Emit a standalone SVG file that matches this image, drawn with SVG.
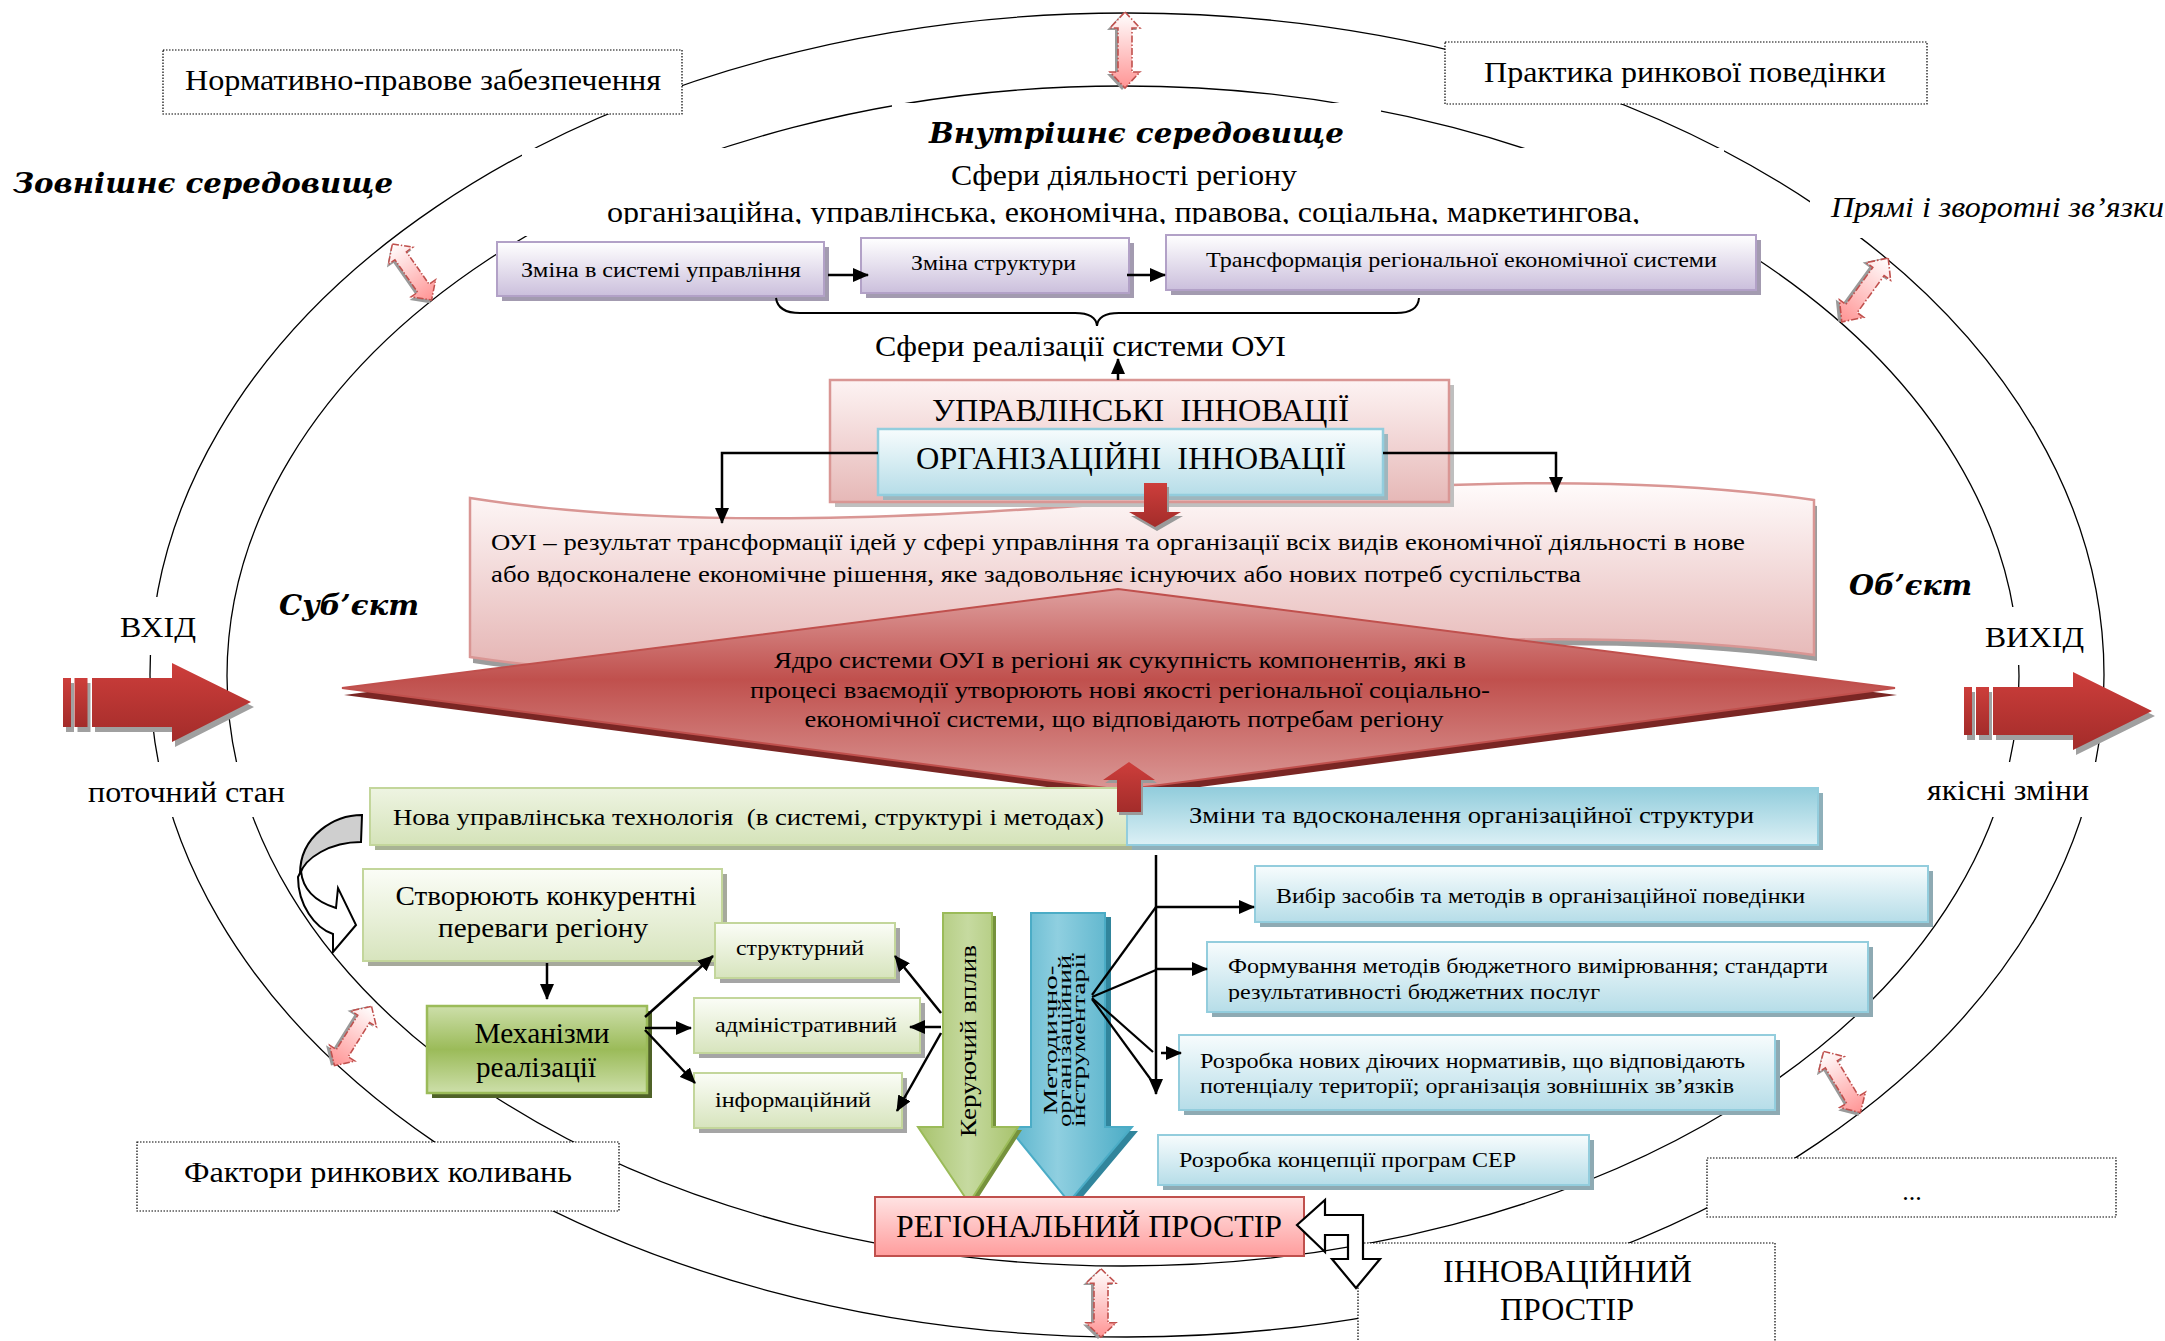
<svg xmlns="http://www.w3.org/2000/svg" width="2165" height="1341" viewBox="0 0 2165 1341">
<defs>
<style>
.t{font-family:"Liberation Serif","Times New Roman",serif;fill:#000}
.bi{font-family:"DejaVu Serif","Liberation Serif",serif;font-weight:bold;font-style:italic;fill:#000}
.dot{fill:#fff;stroke:#000;stroke-width:1.2;stroke-dasharray:1.5 1.5}
.ell{fill:none;stroke:#000;stroke-width:1.3}
.con{fill:none;stroke:#000;stroke-width:2.5}
.wh{fill:#fff}
</style>
<linearGradient id="gPurple" x1="0" y1="0" x2="0" y2="1"><stop offset="0" stop-color="#ffffff"/><stop offset="1" stop-color="#cbbfdc"/></linearGradient>
<linearGradient id="gPinkBox" x1="0" y1="0" x2="0" y2="1"><stop offset="0" stop-color="#fdf3f3"/><stop offset="1" stop-color="#e6b8b7"/></linearGradient>
<linearGradient id="gBlueBox" x1="0" y1="0" x2="0" y2="1"><stop offset="0" stop-color="#f7fcfd"/><stop offset="1" stop-color="#b6dde8"/></linearGradient>
<linearGradient id="gBlueBar" x1="0" y1="0" x2="0" y2="1"><stop offset="0" stop-color="#92cddc"/><stop offset="1" stop-color="#dcf0f5"/></linearGradient>
<linearGradient id="gGreenBar" x1="0" y1="0" x2="0" y2="1"><stop offset="0" stop-color="#eef4e2"/><stop offset="1" stop-color="#d5e3b9"/></linearGradient>
<linearGradient id="gGreenBox" x1="0" y1="0" x2="0" y2="1"><stop offset="0" stop-color="#fbfdf7"/><stop offset="1" stop-color="#d7e4bd"/></linearGradient>
<linearGradient id="gMech" x1="0" y1="0" x2="0" y2="1"><stop offset="0" stop-color="#cddfaa"/><stop offset="0.5" stop-color="#9bbb59"/><stop offset="1" stop-color="#cddfaa"/></linearGradient>
<linearGradient id="gWave" x1="0" y1="0" x2="0" y2="1"><stop offset="0" stop-color="#fffbfb"/><stop offset="1" stop-color="#e4b2b1"/></linearGradient>
<linearGradient id="gDiamond" x1="0" y1="0" x2="0" y2="1"><stop offset="0" stop-color="#de9f9e"/><stop offset="0.45" stop-color="#c0504d"/><stop offset="1" stop-color="#da9795"/></linearGradient>
<linearGradient id="gRedArrow" x1="0" y1="0" x2="0" y2="1"><stop offset="0" stop-color="#cd3e3b"/><stop offset="1" stop-color="#a32c2a"/></linearGradient>
<linearGradient id="gRegion" x1="0" y1="0" x2="0" y2="1"><stop offset="0" stop-color="#ffe3e3"/><stop offset="1" stop-color="#ff9d9d"/></linearGradient>
<linearGradient id="gDbl" x1="0" y1="0" x2="1" y2="0"><stop offset="0" stop-color="#ffffff"/><stop offset="1" stop-color="#ff9494"/></linearGradient>
<linearGradient id="gGreenArrow" x1="0" y1="0" x2="1" y2="0"><stop offset="0" stop-color="#a8c36d"/><stop offset="0.5" stop-color="#c6daa0"/><stop offset="1" stop-color="#a8c36d"/></linearGradient>
<linearGradient id="gBlueArrow" x1="0" y1="0" x2="1" y2="0"><stop offset="0" stop-color="#58b3cb"/><stop offset="0.4" stop-color="#8fcfe0"/><stop offset="1" stop-color="#4bacc6"/></linearGradient>
<marker id="ah" markerUnits="userSpaceOnUse" markerWidth="16" markerHeight="14" refX="15" refY="7" orient="auto"><path d="M0,0 L16,7 L0,14 Z" fill="#000"/></marker>
<g id="dbl">
<path d="M-38,0 L-22,-15 L-22,-7 L22,-7 L22,-15 L38,0 L22,15 L22,7 L-22,7 L-22,15 Z" fill="#9a9a9a" transform="translate(2,3)"/>
<path d="M-38,0 L-22,-15 L-22,-7 L22,-7 L22,-15 L38,0 L22,15 L22,7 L-22,7 L-22,15 Z" fill="url(#gDbl)" stroke="#c0504d" stroke-width="1.6" stroke-dasharray="7 2 1.5 2"/>
</g>
<clipPath id="clipTop"><rect x="0" y="0" width="2165" height="224"/></clipPath>
<clipPath id="clipForm"><rect x="0" y="0" width="2165" height="1002"/></clipPath>
</defs>

<rect width="2165" height="1341" fill="#fff"/>

<g id="environment">
<ellipse class="ell" cx="1127" cy="675" rx="977" ry="662"/>
<ellipse class="ell" cx="1123" cy="676" rx="896" ry="590"/>
<rect class="wh" x="522" y="148" width="1202" height="88"/>
<rect class="wh" x="892" y="103" width="489" height="45"/>
<rect class="wh" x="1810" y="200" width="355" height="38"/>
<rect class="wh" x="108" y="597" width="97" height="58"/>
<rect class="wh" x="84" y="762" width="206" height="55"/>
<rect class="wh" x="1978" y="607" width="115" height="58"/>
<rect class="wh" x="1920" y="762" width="180" height="55"/>
</g>

<g id="labels">
<text class="bi" x="13" y="193" font-size="28" textLength="380" lengthAdjust="spacingAndGlyphs">Зовнішнє середовище</text>
<text class="bi" x="929" y="143" font-size="28" textLength="415" lengthAdjust="spacingAndGlyphs">Внутрішнє середовище</text>
<text class="bi" x="279" y="615" font-size="28" textLength="140" lengthAdjust="spacingAndGlyphs">Суб’єкт</text>
<text class="bi" x="1849" y="595" font-size="28" textLength="123" lengthAdjust="spacingAndGlyphs">Об’єкт</text>
<text class="t" x="1831" y="217" font-size="30" font-style="italic" textLength="333" lengthAdjust="spacingAndGlyphs">Прямі і зворотні зв’язки</text>
<text class="t" x="951" y="185" font-size="30" textLength="346" lengthAdjust="spacingAndGlyphs">Сфери діяльності регіону</text>
<text class="t" x="607" y="222" font-size="30" textLength="1033" lengthAdjust="spacingAndGlyphs" clip-path="url(#clipTop)">організаційна, управлінська, економічна, правова, соціальна, маркетингова,</text>
<text class="t" x="875" y="356" font-size="30" textLength="411" lengthAdjust="spacingAndGlyphs">Сфери реалізації системи ОУІ</text>
<text class="t" x="120" y="637" font-size="30" textLength="76" lengthAdjust="spacingAndGlyphs">ВХІД</text>
<text class="t" x="1985" y="647" font-size="30" textLength="99" lengthAdjust="spacingAndGlyphs">ВИХІД</text>
<text class="t" x="88" y="802" font-size="30" textLength="197" lengthAdjust="spacingAndGlyphs">поточний стан</text>
<text class="t" x="1927" y="800" font-size="30" textLength="162" lengthAdjust="spacingAndGlyphs">якісні зміни</text>
</g>

<g id="norm">
<rect class="dot" x="163" y="50" width="519" height="64"/>
<text class="t" x="185" y="90" font-size="30" textLength="476" lengthAdjust="spacingAndGlyphs">Нормативно-правове забезпечення</text>
</g>
<g id="practice">
<rect class="dot" x="1445" y="42" width="482" height="62"/>
<text class="t" x="1484" y="82" font-size="30" textLength="402" lengthAdjust="spacingAndGlyphs">Практика ринкової поведінки</text>
</g>
<g id="factors">
<rect class="dot" x="137" y="1142" width="482" height="69"/>
<text class="t" x="184" y="1182" font-size="30" textLength="388" lengthAdjust="spacingAndGlyphs">Фактори ринкових коливань</text>
</g>
<g id="dots">
<rect class="dot" x="1707" y="1158" width="409" height="59"/>
<text class="t" x="1912" y="1200" font-size="26" text-anchor="middle">...</text>
</g>
<g id="innov-space">
<rect class="dot" x="1358" y="1243" width="417" height="110"/>
<text class="t" x="1443" y="1282" font-size="32" textLength="249" lengthAdjust="spacingAndGlyphs">ІННОВАЦІЙНИЙ</text>
<text class="t" x="1500" y="1320" font-size="32" textLength="134" lengthAdjust="spacingAndGlyphs">ПРОСТІР</text>
</g>

<g id="feedback-arrows">
<use href="#dbl" transform="translate(1125,50) rotate(90)"/>
<use href="#dbl" transform="translate(1101,1303) rotate(90) scale(0.9,1)"/>
<use href="#dbl" transform="translate(412,272) rotate(55) scale(0.9,1)"/>
<use href="#dbl" transform="translate(1865,290) rotate(126) scale(1.04,1)"/>
<use href="#dbl" transform="translate(353,1036) rotate(122) scale(0.92,1)"/>
<use href="#dbl" transform="translate(1842,1082) rotate(59) scale(0.94,1)"/>
</g>

<g id="input-arrow">
<g fill="#a0a0a0" transform="translate(3,5)">
<rect x="63" y="678" width="8" height="49"/><rect x="74.5" y="678" width="13" height="49"/>
<polygon points="92,678 172,678 172,663 251,702 172,742 172,727 92,727"/>
</g>
<g fill="url(#gRedArrow)">
<rect x="63" y="678" width="8" height="49"/><rect x="74.5" y="678" width="13" height="49"/>
<polygon points="92,678 172,678 172,663 251,702 172,742 172,727 92,727"/>
</g>
</g>
<g id="output-arrow">
<g fill="#a0a0a0" transform="translate(3,5)">
<rect x="1964" y="687" width="8" height="48"/><rect x="1976" y="687" width="13" height="48"/>
<polygon points="1993,687 2073,687 2073,672 2152,711 2073,750 2073,735 1993,735"/>
</g>
<g fill="url(#gRedArrow)">
<rect x="1964" y="687" width="8" height="48"/><rect x="1976" y="687" width="13" height="48"/>
<polygon points="1993,687 2073,687 2073,672 2152,711 2073,750 2073,735 1993,735"/>
</g>
</g>

<g id="purple-boxes">
<g id="p1">
<rect x="502" y="247" width="327" height="54" fill="#a39bb0"/>
<rect x="497" y="242" width="327" height="54" fill="url(#gPurple)" stroke="#b2a1c7" stroke-width="2"/>
<text class="t" x="521" y="277" font-size="22" textLength="280" lengthAdjust="spacingAndGlyphs">Зміна в системі управління</text>
</g>
<g id="p2">
<rect x="866" y="243" width="268" height="55" fill="#a39bb0"/>
<rect x="861" y="238" width="268" height="55" fill="url(#gPurple)" stroke="#b2a1c7" stroke-width="2"/>
<text class="t" x="911" y="270" font-size="22" textLength="165" lengthAdjust="spacingAndGlyphs">Зміна структури</text>
</g>
<g id="p3">
<rect x="1171" y="240" width="590" height="55" fill="#a39bb0"/>
<rect x="1166" y="235" width="590" height="55" fill="url(#gPurple)" stroke="#b2a1c7" stroke-width="2"/>
<text class="t" x="1206" y="267" font-size="22" textLength="511" lengthAdjust="spacingAndGlyphs">Трансформація регіональної економічної системи</text>
</g>
</g>

<g id="brace">
<path d="M776,298 Q778,313 800,313 L1075,313 Q1096,313 1097,326 Q1098,313 1119,313 L1396,313 Q1418,313 1419,298" fill="none" stroke="#000" stroke-width="2"/>
</g>

<g id="wave">
<path d="M470,498 C900,565 1400,440 1814,500 L1814,655 C1400,597 900,722 470,657 Z" fill="#9c9c9c" transform="translate(3,6)"/>
<path d="M470,498 C900,565 1400,440 1814,500 L1814,655 C1400,597 900,722 470,657 Z" fill="url(#gWave)" stroke="#d99694" stroke-width="2.5"/>
<text class="t" x="491" y="550" font-size="24" textLength="1254" lengthAdjust="spacingAndGlyphs">ОУІ – результат трансформації ідей у сфері управління та організації всіх видів економічної діяльності в нове</text>
<text class="t" x="491" y="582" font-size="24" textLength="1090" lengthAdjust="spacingAndGlyphs">або вдосконалене економічне рішення, яке задовольняє існуючих або нових потреб суспільства</text>
</g>

<g id="upr">
<rect x="835" y="385" width="619" height="122" fill="#bfbfbf"/>
<rect x="830" y="380" width="619" height="122" fill="url(#gPinkBox)" stroke="#d99694" stroke-width="2.5"/>
<text class="t" x="932" y="421" font-size="32" textLength="417" lengthAdjust="spacingAndGlyphs" xml:space="preserve">УПРАВЛІНСЬКІ  ІННОВАЦІЇ</text>
</g>
<g id="org">
<rect x="883" y="434" width="505" height="66" fill="#9fb6bd"/>
<rect x="878" y="429" width="505" height="66" fill="url(#gBlueBox)" stroke="#93cddd" stroke-width="2.5"/>
<text class="t" x="916" y="469" font-size="32" textLength="430" lengthAdjust="spacingAndGlyphs" xml:space="preserve">ОРГАНІЗАЦІЙНІ  ІННОВАЦІЇ</text>
</g>

<g id="core">
<polygon points="342,688 1118,589 1895,688 1122,790" fill="#7a2624" transform="translate(2,7)"/>
<polygon points="342,688 1118,589 1895,688 1122,790" fill="url(#gDiamond)" stroke="#c0504d" stroke-width="2"/>
<text class="t" x="1120" y="668" font-size="24" text-anchor="middle" textLength="692" lengthAdjust="spacingAndGlyphs">Ядро системи ОУІ в регіоні як сукупність компонентів, які в</text>
<text class="t" x="1120" y="698" font-size="24" text-anchor="middle" textLength="740" lengthAdjust="spacingAndGlyphs">процесі взаємодії утворюють нові якості регіональної соціально-</text>
<text class="t" x="1124" y="727" font-size="24" text-anchor="middle" textLength="639" lengthAdjust="spacingAndGlyphs">економічної системи, що відповідають потребам регіону</text>
</g>

<g id="red-small-arrows">
<polygon points="1144,483 1167,483 1167,512 1181,512 1155,527 1129,512 1144,512" fill="#9a9a9a" transform="translate(2,4)"/>
<polygon points="1144,483 1167,483 1167,512 1181,512 1155,527 1129,512 1144,512" fill="url(#gRedArrow)"/>
</g>

<g id="new-tech">
<rect x="375" y="793" width="757" height="57" fill="#a8b394"/>
<rect x="370" y="788" width="757" height="57" fill="url(#gGreenBar)" stroke="#c3d69b" stroke-width="2"/>
<text class="t" x="393" y="825" font-size="24" textLength="711" lengthAdjust="spacingAndGlyphs" xml:space="preserve">Нова управлінська технологія  (в системі, структурі і методах)</text>
</g>
<g id="struct-change">
<rect x="1132" y="793" width="691" height="57" fill="#8fb0ba"/>
<rect x="1127" y="788" width="691" height="57" fill="url(#gBlueBar)" stroke="#93cddd" stroke-width="2"/>
<text class="t" x="1189" y="823" font-size="24" textLength="565" lengthAdjust="spacingAndGlyphs">Зміни та вдосконалення організаційної структури</text>
</g>
<g id="red-up-arrow">
<polygon points="1117,812 1141,812 1141,780 1155,780 1129,762 1103,780 1117,780" fill="#9a9a9a" transform="translate(2,3)"/>
<polygon points="1117,812 1141,812 1141,780 1155,780 1129,762 1103,780 1117,780" fill="url(#gRedArrow)"/>
</g>

<g id="curved-arrow">
<path d="M298,877 C298,905 315,928 333,934 L333,952 L356,925 L338,888 L336,908 C320,903 303,893 301,871 Z" fill="#fff" stroke="#000" stroke-width="2"/>
<path d="M362,815 C335,815 300,835 300,874 C305,858 330,842 361,842 Z" fill="#cfcfcf" stroke="#000" stroke-width="2"/>
</g>

<g id="advantage">
<rect x="368" y="874" width="359" height="92" fill="#a6a99c"/>
<rect x="363" y="869" width="359" height="92" fill="url(#gGreenBox)" stroke="#c3d69b" stroke-width="2"/>
<text class="t" x="546" y="905" font-size="27" text-anchor="middle" textLength="301" lengthAdjust="spacingAndGlyphs">Створюють конкурентні</text>
<text class="t" x="543" y="937" font-size="27" text-anchor="middle" textLength="210" lengthAdjust="spacingAndGlyphs">переваги регіону</text>
</g>
<g id="mechanisms">
<rect x="432" y="1011" width="220" height="87" fill="#4f6228"/>
<rect x="427" y="1006" width="220" height="87" fill="url(#gMech)" stroke="#9bbb59" stroke-width="2.5"/>
<text class="t" x="542" y="1043" font-size="30" text-anchor="middle" textLength="135" lengthAdjust="spacingAndGlyphs">Механізми</text>
<text class="t" x="536" y="1077" font-size="30" text-anchor="middle" textLength="120" lengthAdjust="spacingAndGlyphs">реалізації</text>
</g>
<g id="m-struct">
<rect x="720" y="928" width="180" height="55" fill="#a5a5a5"/>
<rect x="715" y="923" width="180" height="55" fill="url(#gGreenBox)" stroke="#c3d69b" stroke-width="2"/>
<text class="t" x="800" y="955" font-size="22" text-anchor="middle" textLength="128" lengthAdjust="spacingAndGlyphs">структурний</text>
</g>
<g id="m-admin">
<rect x="699" y="1003" width="226" height="55" fill="#a5a5a5"/>
<rect x="694" y="998" width="226" height="55" fill="url(#gGreenBox)" stroke="#c3d69b" stroke-width="2"/>
<text class="t" x="806" y="1032" font-size="22" text-anchor="middle" textLength="182" lengthAdjust="spacingAndGlyphs">адміністративний</text>
</g>
<g id="m-info">
<rect x="699" y="1078" width="208" height="55" fill="#a5a5a5"/>
<rect x="694" y="1073" width="208" height="55" fill="url(#gGreenBox)" stroke="#c3d69b" stroke-width="2"/>
<text class="t" x="793" y="1107" font-size="22" text-anchor="middle" textLength="156" lengthAdjust="spacingAndGlyphs">інформаційний</text>
</g>

<g id="method-arrow">
<polygon points="1031,913 1105,913 1105,1127 1132,1127 1069,1202 1008,1127 1031,1127" fill="#31859c" transform="translate(6,4)"/>
<polygon points="1031,913 1105,913 1105,1127 1132,1127 1069,1202 1008,1127 1031,1127" fill="url(#gBlueArrow)" stroke="#4bacc6" stroke-width="2"/>
<g class="t" font-size="19" text-anchor="middle">
<text transform="translate(1057,1040) rotate(-90)" textLength="149" lengthAdjust="spacingAndGlyphs">Методично-</text>
<text transform="translate(1071,1041) rotate(-90)" textLength="172" lengthAdjust="spacingAndGlyphs">організаційний</text>
<text transform="translate(1085,1040) rotate(-90)" textLength="174" lengthAdjust="spacingAndGlyphs">інструментарії</text>
</g>
</g>
<g id="control-arrow">
<polygon points="943,913 992,913 992,1127 1018,1127 969,1203 918,1127 943,1127" fill="#76923c" transform="translate(4,3)"/>
<polygon points="943,913 992,913 992,1127 1018,1127 969,1203 918,1127 943,1127" fill="url(#gGreenArrow)" stroke="#9bbb59" stroke-width="2"/>
<text class="t" transform="translate(976,1041) rotate(-90)" font-size="24" text-anchor="middle" textLength="192" lengthAdjust="spacingAndGlyphs">Керуючий вплив</text>
</g>

<g id="b1">
<rect x="1260" y="871" width="673" height="56" fill="#8eaab3"/>
<rect x="1255" y="866" width="673" height="56" fill="url(#gBlueBox)" stroke="#93cddd" stroke-width="2"/>
<text class="t" x="1276" y="903" font-size="22" textLength="529" lengthAdjust="spacingAndGlyphs">Вибір засобів та методів в організаційної поведінки</text>
</g>
<g id="b2">
<rect x="1212" y="947" width="661" height="70" fill="#8eaab3"/>
<rect x="1207" y="942" width="661" height="70" fill="url(#gBlueBox)" stroke="#93cddd" stroke-width="2"/>
<text class="t" x="1228" y="973" font-size="22" textLength="600" lengthAdjust="spacingAndGlyphs">Формування методів бюджетного вимірювання; стандарти</text>
<text class="t" x="1228" y="999" font-size="22" textLength="372" lengthAdjust="spacingAndGlyphs" clip-path="url(#clipForm)">результативності бюджетних послуг</text>
</g>
<g id="b3">
<rect x="1184" y="1040" width="596" height="75" fill="#8eaab3"/>
<rect x="1179" y="1035" width="596" height="75" fill="url(#gBlueBox)" stroke="#93cddd" stroke-width="2"/>
<text class="t" x="1200" y="1068" font-size="22" textLength="545" lengthAdjust="spacingAndGlyphs">Розробка нових діючих нормативів, що відповідають</text>
<text class="t" x="1200" y="1093" font-size="22" textLength="534" lengthAdjust="spacingAndGlyphs">потенціалу території; організація зовнішніх зв’язків</text>
</g>
<g id="b4">
<rect x="1163" y="1140" width="431" height="50" fill="#8eaab3"/>
<rect x="1158" y="1135" width="431" height="50" fill="url(#gBlueBox)" stroke="#93cddd" stroke-width="2"/>
<text class="t" x="1179" y="1167" font-size="22" textLength="337" lengthAdjust="spacingAndGlyphs">Розробка концепції програм СЕР</text>
</g>

<g id="region">
<rect x="875" y="1197" width="429" height="59" fill="url(#gRegion)" stroke="#c0504d" stroke-width="2"/>
<text class="t" x="896" y="1237" font-size="32" textLength="386" lengthAdjust="spacingAndGlyphs">РЕГІОНАЛЬНИЙ ПРОСТІР</text>
</g>
<g id="bent-arrow">
<path d="M1297,1225 L1325,1200 L1325,1215 L1363,1215 L1363,1259 L1380,1259 L1356,1288 L1332,1259 L1348,1259 L1348,1235 L1325,1235 L1325,1252 Z" fill="#fff" stroke="#000" stroke-width="2.2"/>
</g>

<g id="connectors">
<line class="con" x1="828" y1="275" x2="868" y2="275" marker-end="url(#ah)"/>
<line class="con" x1="1127" y1="275" x2="1165" y2="275" marker-end="url(#ah)"/>
<line class="con" x1="1118" y1="380" x2="1118" y2="359" marker-end="url(#ah)"/>
<polyline class="con" points="878,453 722,453 722,523" marker-end="url(#ah)"/>
<polyline class="con" points="1383,453 1556,453 1556,492" marker-end="url(#ah)"/>
<line class="con" x1="547" y1="963" x2="547" y2="999" marker-end="url(#ah)"/>
<line class="con" x1="645" y1="1017" x2="713" y2="956" marker-end="url(#ah)"/>
<line class="con" x1="645" y1="1028" x2="691" y2="1028" marker-end="url(#ah)"/>
<line class="con" x1="645" y1="1030" x2="695" y2="1083" marker-end="url(#ah)"/>
<line class="con" x1="941" y1="1013" x2="895" y2="956" marker-end="url(#ah)"/>
<line class="con" x1="941" y1="1027" x2="910" y2="1027" marker-end="url(#ah)"/>
<line class="con" x1="941" y1="1033" x2="897" y2="1111" marker-end="url(#ah)"/>
<line class="con" x1="1156" y1="855" x2="1156" y2="1094" marker-end="url(#ah)"/>
<line class="con" x1="1156" y1="907" x2="1254" y2="907" marker-end="url(#ah)"/>
<line class="con" x1="1156" y1="969" x2="1207" y2="969" marker-end="url(#ah)"/>
<line class="con" x1="1161" y1="1053" x2="1181" y2="1053" marker-end="url(#ah)"/>
<g stroke="#000" stroke-width="2.2" fill="none">
<line x1="1092" y1="995" x2="1156" y2="907"/>
<line x1="1092" y1="997" x2="1156" y2="970"/>
<line x1="1092" y1="998" x2="1153" y2="1052"/>
<line x1="1092" y1="999" x2="1157" y2="1088"/>
</g>
</g>
</svg>
